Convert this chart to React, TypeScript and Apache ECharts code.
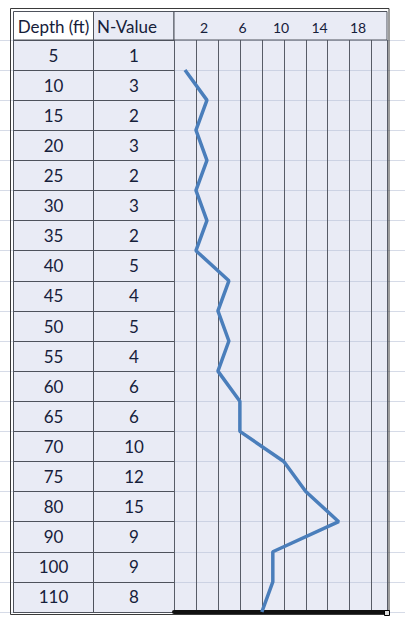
import React, { useEffect, useRef } from 'react';
import * as echarts from 'echarts';

// ---- data ----
const depthLabels = ['5', '10', '15', '20', '25', '30', '35', '40', '45', '50', '55', '60', '65', '70', '75', '80', '90', '100', '110'];
const nValues = [1, 3, 2, 3, 2, 3, 2, 5, 4, 5, 4, 6, 6, 10, 12, 15, 9, 9, 8];
const headerTickLabels = ['2', '6', '10', '14', '18'];
const columnTitles = ['Depth (ft)', 'N-Value'];

export default function App() {
  const ref = useRef<HTMLDivElement>(null);

  useEffect(() => {
    const chart = echarts.init(ref.current!, null, { renderer: 'svg' });
    const fontFamily = 'Lato';
    const ink = '#16203A';
    const cellFill = '#E9EBF5';
    const dark = '#4E525C';
    const off = { show: false };

    const option: any = {
      animation: false,
      backgroundColor: '#ffffff',
      grid: [
        // 0: line plot (points on row boundaries)
        { left: 174, right: 18, top: 70, bottom: 9, z: 3, outerBoundsMode: 'none', containLabel: false },
        // 1: table body
        { left: 13, right: 231, top: 40, bottom: 9, show: true, backgroundColor: cellFill, borderWidth: 0, z: 1, outerBoundsMode: 'none', containLabel: false },
        // 2: chart body
        { left: 174, right: 18, top: 40, bottom: 9, show: true, backgroundColor: cellFill, borderWidth: 0, z: 1, outerBoundsMode: 'none', containLabel: false },
        // 3: sheet gridlines (full width)
        { left: 0, right: 0, top: 40, bottom: 9, z: 0, outerBoundsMode: 'none', containLabel: false },
        // 4: header tick labels
        { left: 184.75, right: 27.75, top: 11, height: 16.5, z: 20, outerBoundsMode: 'none', containLabel: false },
      ],
      xAxis: [
        { gridIndex: 0, type: 'value', min: 0, max: 19.4, show: false },
        {
          gridIndex: 1, type: 'value', min: 0, max: 2, interval: 1, z: 3,
          axisLine: off, axisTick: off, axisLabel: off,
          splitLine: { show: true, lineStyle: { color: dark, width: 1 } },
        },
        {
          gridIndex: 2, type: 'value', min: 0, max: 19.4, interval: 2, z: 3,
          axisTick: off, axisLabel: off,
          axisLine: { show: true, onZero: false, lineStyle: { color: '#111111', width: 4 } },
          splitLine: { show: true, lineStyle: { color: '#585C67', width: 1 } },
        },
        { gridIndex: 3, type: 'value', show: false },
        {
          gridIndex: 4, type: 'category', data: headerTickLabels, position: 'bottom', z: 20,
          axisLine: off, axisTick: off, splitLine: off,
          axisLabel: { interval: 0, margin: 0, verticalAlign: 'middle', fontSize: 14, fontFamily, color: ink },
        },
      ],
      yAxis: [
        { gridIndex: 0, type: 'category', data: depthLabels, inverse: true, boundaryGap: false, show: false },
        {
          gridIndex: 1, type: 'category', data: depthLabels, inverse: true, position: 'left', z: 3,
          axisLine: off, axisTick: off,
          splitLine: { show: true, lineStyle: { color: dark, width: 1 } },
          axisLabel: { interval: 0, align: 'center', margin: -40.5, fontSize: 17, fontFamily, color: ink, padding: [3, 0, 0, 0] },
        },
        {
          gridIndex: 1, type: 'category', data: nValues.map(String), inverse: true, position: 'right', z: 3,
          axisLine: off, axisTick: off, splitLine: off,
          axisLabel: { interval: 0, align: 'center', margin: -40, fontSize: 17, fontFamily, color: ink, padding: [3, 0, 0, 0] },
        },
        {
          gridIndex: 2, type: 'category', data: depthLabels, inverse: true, z: 2,
          axisLine: off, axisTick: off, axisLabel: off,
          splitLine: { show: true, lineStyle: { color: '#CCD2E3', width: 1 } },
        },
        {
          gridIndex: 3, type: 'category', data: depthLabels, inverse: true, z: 0,
          axisLine: off, axisTick: off, axisLabel: off,
          splitLine: { show: true, lineStyle: { color: '#D6DBE7', width: 1 } },
        },
        { gridIndex: 4, type: 'value', show: false },
      ],
      series: [
        {
          type: 'line',
          xAxisIndex: 0,
          yAxisIndex: 0,
          data: nValues.map((v, i) => [v, depthLabels[i]]),
          symbol: 'none',
          silent: true,
          z: 6,
          lineStyle: { color: '#4A7EBB', width: 3.5 },
        },
      ],
      graphic: [
        // header cells
        { type: 'rect', z: 10, shape: { x: 13.5, y: 11.5, width: 80, height: 28.5 }, style: { fill: '#ffffff', stroke: dark, lineWidth: 1 } },
        { type: 'rect', z: 10, shape: { x: 93.5, y: 11.5, width: 80.5, height: 28.5 }, style: { fill: cellFill, stroke: dark, lineWidth: 1 } },
        { type: 'rect', z: 10, shape: { x: 174, y: 11.5, width: 213, height: 28.5 }, style: { fill: cellFill, stroke: dark, lineWidth: 1 } },
        {
          type: 'text', z: 11, x: 53.5, y: 26,
          style: { text: columnTitles[0], fill: ink, fontSize: 17, fontFamily, align: 'center', verticalAlign: 'middle', textAlign: 'center', textVerticalAlign: 'middle' },
        },
        {
          type: 'text', z: 11, x: 97, y: 26,
          style: { text: columnTitles[1], fill: ink, fontSize: 17, fontFamily, align: 'left', verticalAlign: 'middle', textAlign: 'left', textVerticalAlign: 'middle' },
        },
        // outer double border
        { type: 'rect', z: 12, shape: { x: 10.5, y: 8.5, width: 378.5, height: 606 }, style: { fill: 'none', stroke: '#3A3A3A', lineWidth: 1 } },
        // selection handle at bottom right
        { type: 'rect', z: 13, shape: { x: 384.5, y: 610.5, width: 5, height: 5 }, style: { fill: '#DDDDDD', stroke: '#000000', lineWidth: 1 } },
      ],
    };

    chart.setOption(option);
    return () => chart.dispose();
  }, []);

  return (
    <div
      ref={ref}
      style={{ position: 'fixed', left: 0, top: 0, width: 405, height: 621, background: '#ffffff' }}
    />
  );
}
